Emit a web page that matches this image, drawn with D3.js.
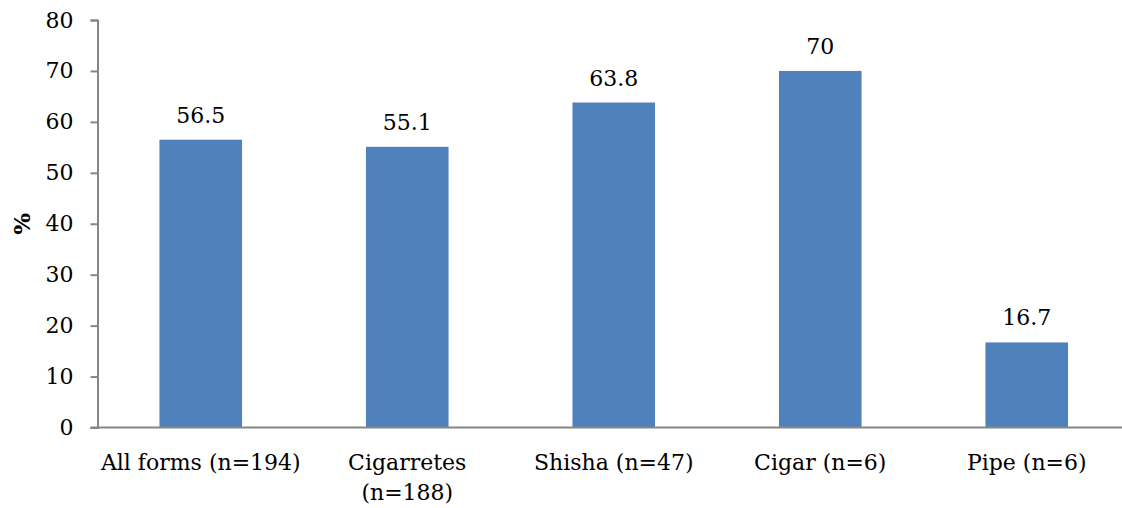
<!DOCTYPE html>
<html>
<head>
<meta charset="utf-8">
<script src="https://cdn.jsdelivr.net/npm/d3@7"></script>
<style>
  body { margin: 0; background: #fff; }
  svg text { font-family: "DejaVu Serif", serif; fill: #000; }
</style>
</head>
<body>
<script>
// data
var categories = [["All forms (n=194)"], ["Cigarretes", "(n=188)"], ["Shisha (n=47)"], ["Cigar (n=6)"], ["Pipe (n=6)"]];
var values = [56.5, 55.1, 63.8, 70, 16.7];
var valueLabels = ["56.5", "55.1", "63.8", "70", "16.7"];
var yTicks = [0, 10, 20, 30, 40, 50, 60, 70, 80];

var width = 1122, height = 508;
var mLeft = 97.5, mRight = 1130, mTop = 20, mBottom = 427.5;
var fontSize = "22px";

var svg = d3.select("body").append("svg")
    .attr("width", width)
    .attr("height", height);

var x = d3.scaleBand()
    .domain(d3.range(values.length))
    .range([mLeft, mRight])
    .paddingInner(0.6)
    .paddingOuter(0.3);

var y = d3.scaleLinear()
    .domain([0, 80])
    .range([mBottom, mTop]);

// bars
svg.selectAll("rect.bar").data(values).enter().append("rect")
    .attr("class", "bar")
    .attr("x", function(d, i) { return x(i); })
    .attr("y", function(d) { return y(d); })
    .attr("width", x.bandwidth())
    .attr("height", function(d) { return y(0) - y(d); })
    .attr("fill", "#4f81bd");

// value labels
svg.selectAll("text.val").data(values).enter().append("text")
    .attr("class", "val")
    .attr("x", function(d, i) { return x(i) + x.bandwidth() / 2; })
    .attr("y", function(d) { return y(d) - 17; })
    .attr("text-anchor", "middle")
    .style("font-size", fontSize)
    .text(function(d, i) { return valueLabels[i]; });

// y axis
var yAxis = d3.axisLeft(y).tickValues(yTicks).tickSize(7).tickPadding(17);
var gy = svg.append("g")
    .attr("transform", "translate(" + mLeft + ",0)")
    .call(yAxis);
gy.select(".domain").attr("stroke", "#868686").attr("stroke-width", 2);
gy.selectAll(".tick line").attr("stroke", "#868686").attr("stroke-width", 2);
gy.selectAll(".tick text")
    .style("font-size", fontSize)
    .style("font-family", "DejaVu Serif, serif")
    .attr("fill", "#000");

// x axis line
svg.append("line")
    .attr("x1", mLeft - 7).attr("x2", width)
    .attr("y1", mBottom).attr("y2", mBottom)
    .attr("stroke", "#868686")
    .attr("stroke-width", 2);

// category labels
svg.selectAll("text.cat").data(categories).enter().append("text")
    .attr("class", "cat")
    .attr("text-anchor", "middle")
    .style("font-size", fontSize)
    .attr("transform", function(d, i) {
        return "translate(" + (x(i) + x.bandwidth() / 2) + "," + 470 + ")";
    })
    .selectAll("tspan").data(function(d) { return d; }).enter().append("tspan")
    .attr("x", 0)
    .attr("y", function(d, j) { return j * 30; })
    .text(function(d) { return d; });

// y axis title
svg.append("text")
    .attr("transform", "translate(30," + ((mTop + mBottom) / 2) + ") rotate(-90)")
    .attr("text-anchor", "middle")
    .style("font-size", "23px")
    .style("font-weight", "bold")
    .text("%");
</script>
</body>
</html>
